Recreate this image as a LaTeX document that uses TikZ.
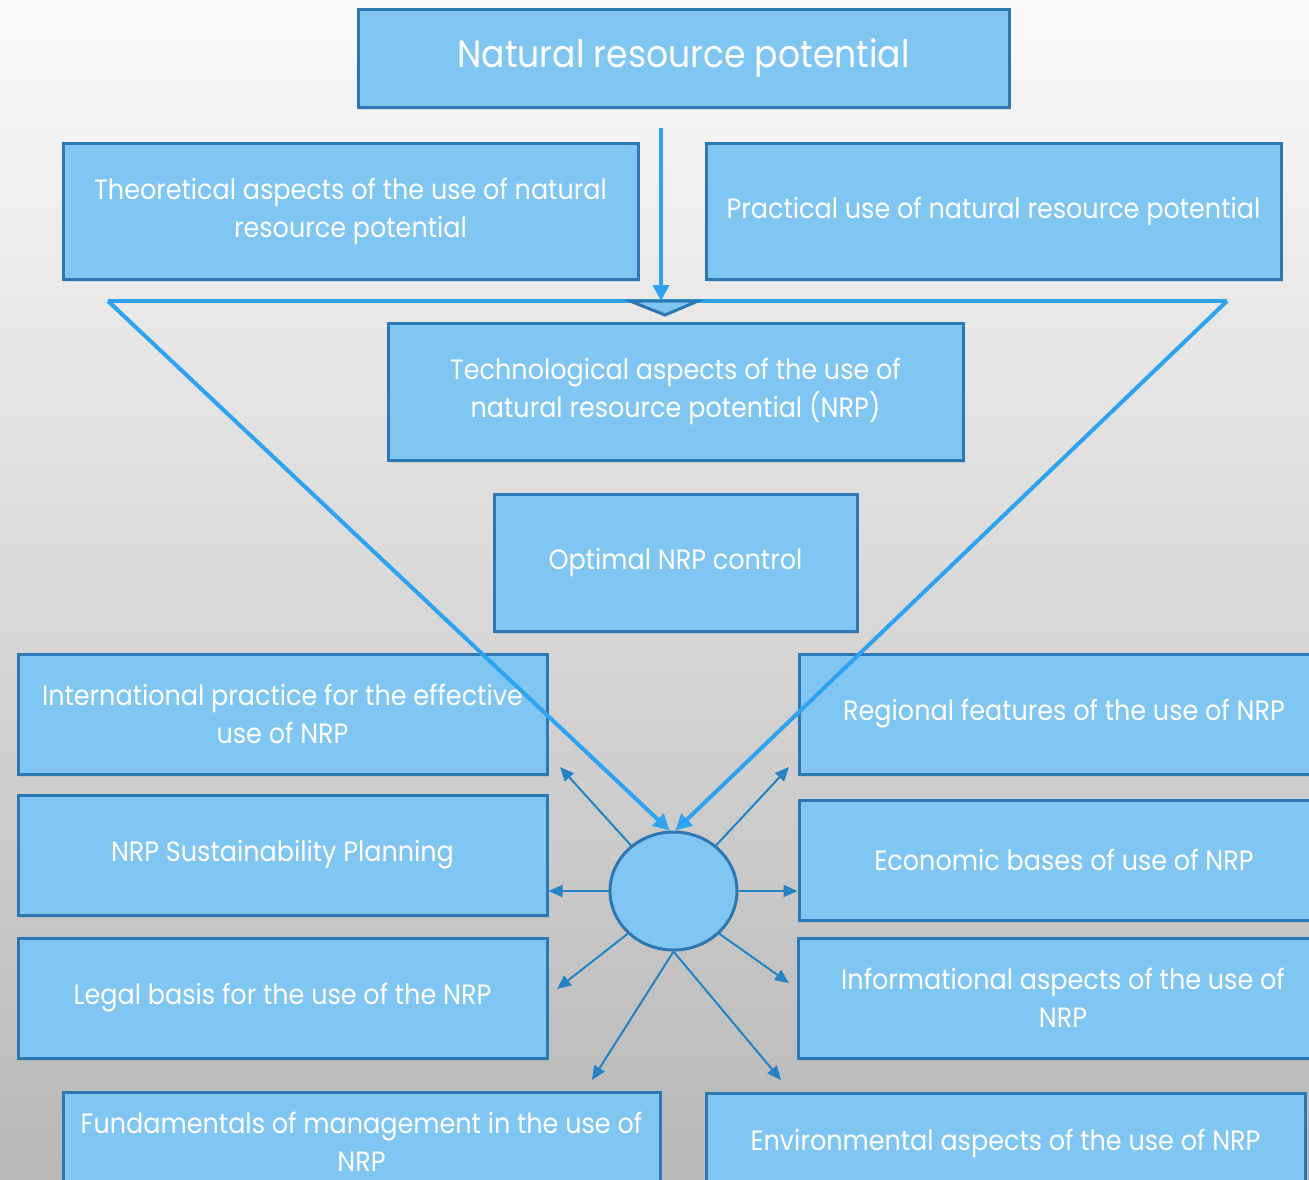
\documentclass[tikz,border=0pt]{standalone}
\usepackage{fontspec}
\setmainfont[FakeStretch=0.91]{Poppins}
\usetikzlibrary{arrows.meta,shapes.geometric,shadows}
\definecolor{boxfill}{HTML}{80C6F3}
\definecolor{boxline}{HTML}{2C78B4}
\definecolor{bigline}{HTML}{2EA3F2}
\definecolor{thinline}{HTML}{2383C4}
\tikzset{
  box/.style={draw=boxline, line width=1.5pt, fill=boxfill, text=white, align=center,
    inner sep=0pt, font=\fontsize{14}{19}\selectfont,
    drop shadow={opacity=.2, shadow xshift=1pt, shadow yshift=-1.5pt}},
  bigarrow/.style={draw=bigline, line width=2pt, -{Triangle[length=8pt,width=8pt]}},
  ray/.style={draw=thinline, line width=1pt, -{Triangle[length=7pt,width=6pt]}}
}
\begin{document}
\begin{tikzpicture}[x=.5pt, y=-.5pt]
  \useasboundingbox (0,0) rectangle (1309,1179);
  \clip (0,0) rectangle (1309,1179);
  \shade [top color=white!98!black, bottom color=black!28] (0,0) rectangle (1309,1179);

  \node [box, minimum width=325.5pt, minimum height=49pt, font=\fontsize{19}{24}\selectfont] (nrp) at (683.5,58) {Natural resource potential};
  \node [box, minimum width=287.5pt, minimum height=68pt] (theory) at (350.5,211) {Theoretical aspects of the use of natural\\resource potential};
  \node [box, minimum width=287.5pt, minimum height=68pt] (practice) at (993.5,211) {Practical use of natural resource potential};

  % funnel
  \coordinate (src) at (661,128);
  \coordinate (tl) at (108,301);
  \coordinate (tr) at (1227,301);
  \coordinate (cup) at (661,301);
  \draw [bigline, line width=2pt] (tl) -- (tr);
  \draw [bigarrow] (src) -- (cup);
  \draw [boxline, line width=1.5pt, fill=boxfill] (630,301) -- (698,301) -- (665,315) -- cycle;

  \node [box, minimum width=287.5pt, minimum height=68.5pt] (tech) at (675.5,391.5) {Technological aspects of the use of\\natural resource potential (NRP)};
  \node [box, minimum width=181.5pt, minimum height=68.5pt] (control) at (675.5,562.5) {Optimal NRP control};

  \node [box, minimum width=264.5pt, minimum height=60pt] (intl) at (282.5,714) {International practice for the effective\\use of NRP};
  \node [box, minimum width=264.5pt, minimum height=60pt] (plan) at (282.5,855) {NRP Sustainability Planning};
  \node [box, minimum width=264.5pt, minimum height=60pt] (legal) at (282.5,998) {Legal basis for the use of the NRP};
  \node [box, minimum width=265pt, minimum height=60pt] (region) at (1064,714) {Regional features of the use of NRP};
  \node [box, minimum width=265pt, minimum height=60pt] (econ) at (1064,860) {Economic bases of use of NRP};
  \node [box, minimum width=265pt, minimum height=60pt] (info) at (1063,998) {Informational aspects of the use of\\NRP};
  \node [box, minimum width=298.5pt, minimum height=50pt] (manage) at (361.5,1142) {Fundamentals of management in the use of\\NRP};
  \node [box, minimum width=299.5pt, minimum height=50pt] (env) at (1005.5,1143) {Environmental aspects of the use of NRP};

  \node [ellipse, draw=boxline, line width=1.5pt, fill=boxfill, minimum width=63.5pt, minimum height=59pt] (hub) at (673.5,891) {};

  \draw [bigarrow] (tl) -- ([xshift=-2pt]hub.north);
  \draw [bigarrow] (tr) -- ([xshift=1pt]hub.north);

  \coordinate (to-intl) at (560,767);
  \coordinate (to-region) at (789,767);
  \coordinate (to-legal) at (557,989);
  \coordinate (to-info) at (789,983);
  \coordinate (to-manage) at (592,1080);
  \coordinate (to-env) at (781,1080);
  \draw [ray] (hub.133) -- (to-intl);
  \draw [ray] (hub.47) -- (to-region);
  \draw [ray] (hub.west) -- (hub.west -| plan.east);
  \draw [ray] (hub.east) -- (hub.east -| econ.west);
  \draw [ray] (hub.223) -- (to-legal);
  \draw [ray] (hub.317) -- (to-info);
  \draw [ray] (hub.south) -- (to-manage);
  \draw [ray] (hub.south) -- (to-env);
\end{tikzpicture}
\end{document}
